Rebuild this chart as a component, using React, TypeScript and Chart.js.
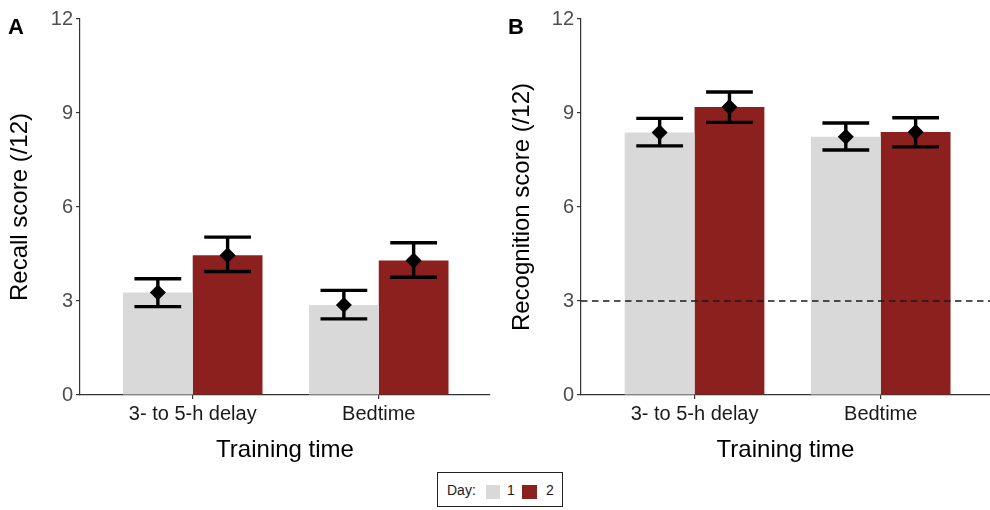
import React, { useEffect, useRef } from 'react';
import { Chart, registerables } from 'chart.js';

Chart.register(...registerables);

// ---- Data ----
const categories = ['3- to 5-h delay', 'Bedtime'];
const dayLabels = ['1', '2'];
const yTickValues = [0, 3, 6, 9, 12];

// Panel A: recall
const recallDay1 = [3.27, 2.87];
const recallDay1Low = [2.82, 2.43];
const recallDay1High = [3.71, 3.34];
const recallDay2 = [4.46, 4.29];
const recallDay2Low = [3.94, 3.76];
const recallDay2High = [5.04, 4.86];

// Panel B: recognition
const recogDay1 = [8.38, 8.24];
const recogDay1Low = [7.95, 7.82];
const recogDay1High = [8.83, 8.68];
const recogDay2 = [9.19, 8.39];
const recogDay2Low = [8.70, 7.92];
const recogDay2High = [9.67, 8.85];

const chanceLevel = 3;

const GRAY = '#d9d9d9';
const RED = '#8b201e';
const FONT = "'Liberation Sans', Arial, Helvetica, sans-serif";

const errorBarPlugin = {
  id: 'errorBars',
  afterDatasetsDraw(chart: any, _args: any, opts: any) {
    const ctx = chart.ctx;
    const yScale = chart.scales.y;
    const area = chart.chartArea;
    if (opts && opts.chance != null) {
      const yy = yScale.getPixelForValue(opts.chance);
      ctx.save();
      ctx.strokeStyle = '#1a1a1a';
      ctx.lineWidth = 1.7;
      ctx.setLineDash([6.5, 4.5]);
      ctx.beginPath();
      ctx.moveTo(area.left, yy);
      ctx.lineTo(area.right, yy);
      ctx.stroke();
      ctx.restore();
    }
    chart.data.datasets.forEach((ds: any, di: number) => {
      const meta = chart.getDatasetMeta(di);
      meta.data.forEach((bar: any, i: number) => {
        const x = bar.x;
        const half = bar.width * 0.335;
        const lo = yScale.getPixelForValue(ds.errLow[i]);
        const hi = yScale.getPixelForValue(ds.errHigh[i]);
        const m = yScale.getPixelForValue(ds.means[i]);
        ctx.save();
        ctx.strokeStyle = '#000';
        ctx.lineWidth = 3.4;
        ctx.lineCap = 'butt';
        ctx.beginPath();
        ctx.moveTo(x, lo);
        ctx.lineTo(x, hi);
        ctx.moveTo(x - half, lo);
        ctx.lineTo(x + half, lo);
        ctx.moveTo(x - half, hi);
        ctx.lineTo(x + half, hi);
        ctx.stroke();
        const d = 8;
        ctx.fillStyle = '#000';
        ctx.beginPath();
        ctx.moveTo(x, m - d);
        ctx.lineTo(x + d, m);
        ctx.lineTo(x, m + d);
        ctx.lineTo(x - d, m);
        ctx.closePath();
        ctx.fill();
        ctx.restore();
      });
    });
  },
};

type PanelProps = {
  left: number;
  width: number;
  yAxisWidth: number;
  padRight: number;
  xMin: number;
  xMax: number;
  yTitle: string;
  yTitlePad: number;
  d1: number[]; d1Low: number[]; d1High: number[];
  d2: number[]; d2Low: number[]; d2High: number[];
  chance?: number | null;
};

function Panel(p: PanelProps) {
  const ref = useRef<HTMLCanvasElement | null>(null);
  useEffect(() => {
    if (!ref.current) return;
    const mk = (vals: number[]) => vals.map((v, i) => ({ x: i + 1, y: v }));
    const chart = new Chart(ref.current, {
      type: 'bar',
      data: {
        datasets: [
          {
            label: dayLabels[0],
            data: mk(p.d1),
            backgroundColor: GRAY,
            borderWidth: 0,
            means: p.d1, errLow: p.d1Low, errHigh: p.d1High,
          } as any,
          {
            label: dayLabels[1],
            data: mk(p.d2),
            backgroundColor: RED,
            borderWidth: 0,
            means: p.d2, errLow: p.d2Low, errHigh: p.d2High,
          } as any,
        ],
      },
      options: {
        responsive: false,
        animation: false,
        layout: { padding: { top: 19, right: p.padRight, bottom: 5, left: 0 } },
        datasets: { bar: { categoryPercentage: 0.75, barPercentage: 1 } },
        plugins: {
          legend: { display: false },
          tooltip: { enabled: false },
          errorBars: { chance: p.chance ?? null },
        } as any,
        scales: {
          x: {
            type: 'linear',
            min: p.xMin,
            max: p.xMax,
            offset: false,
            afterBuildTicks: (s: any) => {
              s.ticks = categories.map((_, i) => ({ value: i + 1 }));
            },
            afterFit: (s: any) => { s.height = 70; },
            ticks: {
              callback: (v: any) => categories[Number(v) - 1] ?? '',
              color: '#1a1a1a',
              font: { family: FONT, size: 20 },
              padding: 3,
              autoSkip: false,
              maxRotation: 0,
            },
            grid: { offset: false, drawOnChartArea: false, drawTicks: true, tickLength: 4, color: '#333', lineWidth: 1.2 },
            border: { display: true, color: '#333', width: 1.2 },
            title: {
              display: true,
              text: 'Training time',
              color: '#000',
              font: { family: FONT, size: 24 },
              padding: { top: 4, bottom: 0 },
            },
          },
          y: {
            min: 0,
            max: 12,
            afterBuildTicks: (s: any) => {
              s.ticks = yTickValues.map((v) => ({ value: v }));
            },
            afterFit: (s: any) => { s.width = p.yAxisWidth; },
            ticks: {
              color: '#4d4d4d',
              font: { family: FONT, size: 20 },
              padding: 3,
            },
            grid: { offset: false, drawOnChartArea: false, drawTicks: true, tickLength: 4, color: '#333', lineWidth: 1.2 },
            border: { display: true, color: '#333', width: 1.2 },
            title: {
              display: true,
              text: p.yTitle,
              color: '#000',
              font: { family: FONT, size: 24 },
              padding: { top: p.yTitlePad, bottom: 0 },
            },
          },
        },
      },
      plugins: [errorBarPlugin],
    });
    return () => chart.destroy();
  }, []);
  return (
    <canvas
      ref={ref}
      width={p.width}
      height={470}
      style={{ position: 'absolute', left: p.left, top: 0, width: p.width, height: 470 }}
    />
  );
}

export default function App() {
  const letter: React.CSSProperties = {
    position: 'absolute', top: 16, fontFamily: FONT, fontWeight: 'bold', fontSize: 22, lineHeight: '22px', color: '#000',
  };
  const legendText: React.CSSProperties = {
    position: 'absolute', top: 0, fontFamily: FONT, fontSize: 14, lineHeight: '35px', color: '#1a1a1a',
  };
  return (
    <div style={{ position: 'fixed', left: 0, top: 0, width: 990, height: 510, background: '#fff', overflow: 'hidden' }}>
      <Panel
        left={0} width={495} yAxisWidth={80} padRight={5} xMin={0.394} xMax={2.598}
        yTitle="Recall score (/12)" yTitlePad={6}
        d1={recallDay1} d1Low={recallDay1Low} d1High={recallDay1High}
        d2={recallDay2} d2Low={recallDay2Low} d2High={recallDay2High}
      />
      <Panel
        left={495} width={495} yAxisWidth={86} padRight={0} xMin={0.39} xMax={2.587}
        yTitle="Recognition score (/12)" yTitlePad={13}
        d1={recogDay1} d1Low={recogDay1Low} d1High={recogDay1High}
        d2={recogDay2} d2Low={recogDay2Low} d2High={recogDay2High}
        chance={chanceLevel}
      />
      <div style={{ ...letter, left: 8 }}>A</div>
      <div style={{ ...letter, left: 508 }}>B</div>
      <div style={{ position: 'absolute', left: 437, top: 472, width: 124, height: 33, border: '1.5px solid #222', background: '#fff' }}>
        <span style={{ ...legendText, left: 9 }}>Day:</span>
        <span style={{ position: 'absolute', left: 48, top: 12, width: 14, height: 14, background: GRAY }} />
        <span style={{ ...legendText, left: 69 }}>{dayLabels[0]}</span>
        <span style={{ position: 'absolute', left: 84, top: 12, width: 15, height: 14, background: RED }} />
        <span style={{ ...legendText, left: 108 }}>{dayLabels[1]}</span>
      </div>
    </div>
  );
}
